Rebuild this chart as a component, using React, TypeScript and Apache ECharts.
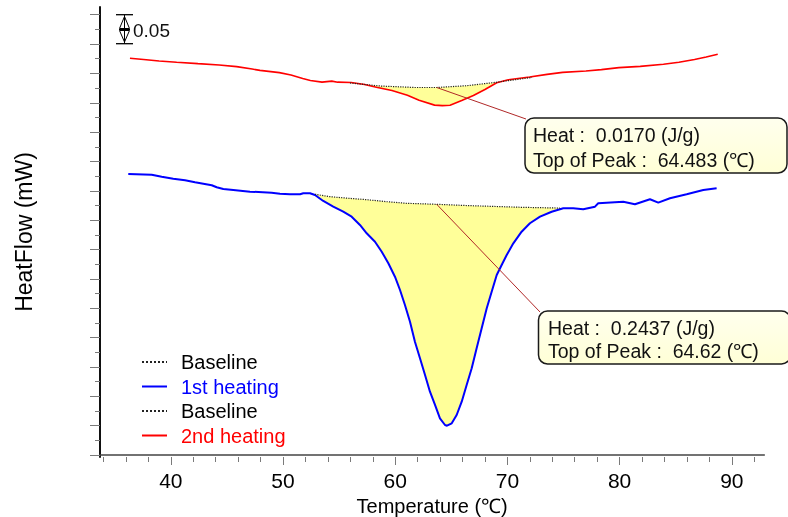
import React, { useEffect, useRef } from 'react';
import * as echarts from 'echarts';

// 2nd heating (red) curve: temperature (°C) and heat flow (mW, relative offset)
const redT = [36.36, 37.58, 38.96, 40.52, 42.42, 44.31, 45.87, 47.25, 47.95, 49.68, 50.71, 51.76, 52.44, 53.48, 54.35, 54.87, 56.08, 57.28, 58.32, 59.71, 61.09, 62.13, 63.51, 64.2, 64.89, 65.93, 66.97, 68.0, 69.05, 70.08, 71.98, 73.54, 74.92, 77.0, 78.38, 79.94, 81.84, 83.91, 85.29, 86.68, 87.72, 88.75];
const redHF = [0.6756, 0.6734, 0.671, 0.6688, 0.6664, 0.6642, 0.6613, 0.6572, 0.655, 0.6511, 0.647, 0.6412, 0.6378, 0.6349, 0.6367, 0.6349, 0.6344, 0.631, 0.6264, 0.6206, 0.6126, 0.6041, 0.5958, 0.595, 0.5955, 0.6036, 0.6121, 0.6224, 0.6339, 0.639, 0.6436, 0.6482, 0.6516, 0.6538, 0.6562, 0.6596, 0.6618, 0.6654, 0.6688, 0.6734, 0.6778, 0.6824];
const redBaseT = [55.97, 58.65, 61.8, 63.7, 66.4, 69.0, 72.2];
const redBaseHF = [0.6335, 0.6284, 0.6258, 0.6258, 0.6289, 0.6347, 0.643];

// 1st heating (blue) curve
const blueT = [36.21, 38.3, 39.19, 40.22, 41.27, 42.16, 42.9, 43.65, 44.09, 44.68, 45.57, 47.06, 48.99, 49.73, 50.62, 51.52, 51.81, 52.41, 52.85, 53.59, 54.48, 55.37, 56.12, 56.86, 57.46, 58.2, 58.8, 59.39, 59.98, 60.43, 60.87, 61.32, 61.76, 62.21, 62.66, 63.1, 63.55, 63.99, 64.44, 64.62, 65.04, 65.48, 65.93, 66.37, 66.82, 67.26, 67.71, 68.16, 68.6, 69.05, 69.49, 69.94, 70.53, 71.27, 72.01, 72.91, 73.95, 74.98, 75.87, 76.76, 77.81, 78.1, 80.33, 81.37, 82.71, 83.45, 84.49, 85.98, 87.46, 88.65];
const blueHF = [0.4785, 0.4773, 0.4739, 0.4705, 0.4678, 0.4644, 0.462, 0.4593, 0.4559, 0.453, 0.4513, 0.4484, 0.4467, 0.445, 0.444, 0.444, 0.4457, 0.4457, 0.4428, 0.4326, 0.4229, 0.4143, 0.4058, 0.3917, 0.3775, 0.3632, 0.3462, 0.3265, 0.3036, 0.281, 0.2555, 0.227, 0.1929, 0.1647, 0.1362, 0.1078, 0.0852, 0.0625, 0.0511, 0.0499, 0.054, 0.0681, 0.0908, 0.1192, 0.1476, 0.1817, 0.2158, 0.2498, 0.2781, 0.3065, 0.3236, 0.3406, 0.3605, 0.3803, 0.3946, 0.4058, 0.4143, 0.4201, 0.4201, 0.4184, 0.4229, 0.4286, 0.4314, 0.4269, 0.4355, 0.4297, 0.4372, 0.444, 0.4513, 0.4542];
const blueBaseT = [52.85, 54.19, 55.82, 57.46, 59.24, 61.02, 63.7, 66.67, 71.27, 74.69];
const blueBaseHF = [0.444, 0.4399, 0.4372, 0.4348, 0.4314, 0.4286, 0.4269, 0.4246, 0.4218, 0.4205];

// legend / labels
const seriesNames = ['Baseline 1', '1st heating', 'Baseline 2', '2nd heating'];
const legendColors = ['#000000', '#0000ff', '#000000', '#ff0000'];
const annotRed = ['Heat :  0.0170 (J/g)', 'Top of Peak :  64.483 (℃)'];
const annotBlue = ['Heat :  0.2437 (J/g)', 'Top of Peak :  64.62 (℃)'];
const leaderAnchorT = 63.7;
const scaleBarLabel = '0.05';

const FONT = 'Liberation Sans, Arial, sans-serif';

const zip = (a: number[], b: number[]) => a.map((v, i) => [v, b[i]]);
const interp = (xs: number[], ys: number[], x: number) => {
  for (let i = 0; i < xs.length - 1; i++) {
    if (x >= xs[i] && x <= xs[i + 1]) {
      const f = (x - xs[i]) / (xs[i + 1] - xs[i]);
      return ys[i] + f * (ys[i + 1] - ys[i]);
    }
  }
  return ys[ys.length - 1];
};

function fillSeries(cT: number[], cHF: number[], bT: number[], bHF: number[]) {
  const t0 = bT[0];
  const t1 = bT[bT.length - 1];
  return {
    type: 'custom',
    xAxisIndex: 0,
    yAxisIndex: 0,
    silent: true,
    z: 1,
    data: [[t0, bHF[0]]],
    encode: { x: 0, y: 1 },
    renderItem: (_p: any, api: any) => {
      const pts: number[][] = [];
      for (let i = 0; i < cT.length; i++) {
        if (cT[i] >= t0 && cT[i] <= t1) pts.push(api.coord([cT[i], cHF[i]]));
      }
      for (let j = bT.length - 1; j >= 0; j--) pts.push(api.coord([bT[j], bHF[j]]));
      return { type: 'polygon', shape: { points: pts }, style: { fill: '#ffff99', stroke: 'none' } };
    },
  };
}

export default function App() {
  const ref = useRef<HTMLDivElement>(null);
  useEffect(() => {
    const chart = echarts.init(ref.current!, null, { renderer: 'svg' });
    const tick = (len: number) => ({ show: true, length: len, lineStyle: { color: '#7a7a7a', width: 1 } });
    const option: any = {
      animation: false,
      grid: [
        { left: 100, top: 7, width: 664.3, height: 450, outerBoundsMode: 'none' },
        { left: 103.48, top: 7, width: 650.76, height: 450, outerBoundsMode: 'none' },
        { left: 170.8, top: 7, width: 561, height: 450, outerBoundsMode: 'none' },
        { left: 100, top: 14.7, width: 664.3, height: 440.3, outerBoundsMode: 'none' },
      ],
      xAxis: [
        {
          gridIndex: 0, type: 'value', min: 33.69, max: 92.9, position: 'bottom',
          axisLine: { show: true, lineStyle: { color: '#444', width: 1.5 } },
          axisTick: { show: false }, axisLabel: { show: false }, splitLine: { show: false },
          name: 'Temperature (℃)', nameLocation: 'middle', nameGap: 39,
          nameTextStyle: { fontSize: 20, color: '#000', fontFamily: FONT },
        },
        {
          gridIndex: 1, type: 'value', min: 34, max: 92, interval: 2, position: 'bottom',
          axisLine: { show: false }, axisTick: tick(5), axisLabel: { show: false }, splitLine: { show: false },
        },
        {
          gridIndex: 2, type: 'value', min: 40, max: 90, interval: 10, position: 'bottom',
          axisLine: { show: false }, axisTick: tick(8), splitLine: { show: false },
          axisLabel: { show: true, fontSize: 21, margin: 13, color: '#000', fontFamily: FONT },
        },
        { gridIndex: 3, type: 'value', min: 0, max: 1, show: false },
      ],
      yAxis: [
        {
          gridIndex: 0, type: 'value', min: -0.0034, max: 0.7629, position: 'left',
          axisLine: { show: true, lineStyle: { color: '#111', width: 2 } },
          axisTick: { show: false }, axisLabel: { show: false }, splitLine: { show: false },
          name: 'HeatFlow (mW)', nameLocation: 'middle', nameGap: 65,
          nameTextStyle: { fontSize: 23, color: '#000', fontFamily: FONT },
        },
        { gridIndex: 1, type: 'value', min: 0, max: 1, show: false },
        { gridIndex: 2, type: 'value', min: 0, max: 1, show: false },
        {
          gridIndex: 3, type: 'value', min: 0, max: 0.75, interval: 0.025, position: 'left', offset: 0,
          axisLine: { show: false }, axisTick: tick(5), axisLabel: { show: false }, splitLine: { show: false },
        },
        {
          gridIndex: 3, type: 'value', min: 0, max: 0.75, interval: 0.05, position: 'left', offset: 0,
          axisLine: { show: false }, axisTick: tick(10), axisLabel: { show: false }, splitLine: { show: false },
        },
      ],
      legend: {
        orient: 'vertical', left: 141, top: 352, padding: 0, itemWidth: 25, itemHeight: 16, itemGap: 4.5,
        selectedMode: false,
        itemStyle: { opacity: 0 },
        data: seriesNames.map((n, i) => ({ name: n, textStyle: { color: legendColors[i] } })),
        formatter: (n: string) => (n.startsWith('Baseline') ? 'Baseline' : n),
        textStyle: { fontSize: 20, fontFamily: FONT, padding: [0, 0, 0, 9] },
      },
      series: [
        fillSeries(blueT, blueHF, blueBaseT, blueBaseHF),
        fillSeries(redT, redHF, redBaseT, redBaseHF),
        {
          name: seriesNames[0], type: 'line', xAxisIndex: 0, yAxisIndex: 0, symbol: 'none', z: 4,
          data: zip(blueBaseT, blueBaseHF), lineStyle: { color: '#222', width: 1.2, type: 'dotted' }, itemStyle: { color: '#222' },
        },
        {
          name: seriesNames[1], type: 'line', xAxisIndex: 0, yAxisIndex: 0, symbol: 'none', z: 3,
          data: zip(blueT, blueHF), lineStyle: { color: '#0000ff', width: 2 }, itemStyle: { color: '#0000ff' },
        },
        {
          name: seriesNames[2], type: 'line', xAxisIndex: 0, yAxisIndex: 0, symbol: 'none', z: 4,
          data: zip(redBaseT, redBaseHF), lineStyle: { color: '#222', width: 1.2, type: 'dotted' }, itemStyle: { color: '#222' },
        },
        {
          name: seriesNames[3], type: 'line', xAxisIndex: 0, yAxisIndex: 0, symbol: 'none', z: 3,
          data: zip(redT, redHF), lineStyle: { color: '#ff0000', width: 1.6 }, itemStyle: { color: '#ff0000' },
        },
      ],
    };
    chart.setOption(option);

    const pRed = chart.convertToPixel({ xAxisIndex: 0, yAxisIndex: 0 } as any, [leaderAnchorT, interp(redBaseT, redBaseHF, leaderAnchorT)]) as number[];
    const pBlue = chart.convertToPixel({ xAxisIndex: 0, yAxisIndex: 0 } as any, [leaderAnchorT, interp(blueBaseT, blueBaseHF, leaderAnchorT)]) as number[];

    const boxStyle = {
      fill: new echarts.graphic.LinearGradient(0, 0, 0, 1, [
        { offset: 0, color: '#ffffee' },
        { offset: 1, color: '#ffffd6' },
      ]),
      stroke: '#1a1a1a', lineWidth: 1.5,
    };
    const txt = (x: number, y: number, s: string, size = 19.5) => ({
      type: 'text', x, y, z: 12,
      style: { text: s, fontSize: size, fontFamily: FONT, fill: '#111', verticalAlign: 'middle', align: 'left' },
    });
    const lineEl = (x1: number, y1: number, x2: number, y2: number, color = '#000', w = 1.3) => ({
      type: 'line', z: 11, shape: { x1, y1, x2, y2 }, style: { stroke: color, lineWidth: w },
    });

    chart.setOption({
      graphic: [
        lineEl(pRed[0], pRed[1], 526, 119, '#b02828', 1),
        lineEl(pBlue[0], pBlue[1], 540, 312, '#b02828', 1),
        { type: 'rect', z: 11, shape: { x: 525, y: 118, width: 262, height: 55, r: 9 }, style: boxStyle },
        txt(533, 135, annotRed[0]),
        txt(533, 160, annotRed[1]),
        { type: 'rect', z: 11, shape: { x: 538.5, y: 311, width: 252, height: 53, r: 9 }, style: boxStyle },
        txt(548, 327.5, annotBlue[0]),
        txt(548, 351, annotBlue[1]),
        // scale bar
        lineEl(116, 14.7, 133, 14.7),
        lineEl(116, 43.7, 133, 43.7),
        lineEl(124.5, 14.7, 124.5, 43.7, '#000', 1),
        { type: 'polygon', z: 11, shape: { points: [[124.5, 16.5], [119.5, 28.5], [129.5, 28.5]] }, style: { fill: 'none', stroke: '#000', lineWidth: 1 } },
        { type: 'polygon', z: 11, shape: { points: [[124.5, 42], [119.5, 30.5], [129.5, 30.5]] }, style: { fill: 'none', stroke: '#000', lineWidth: 1 } },
        lineEl(119, 29.5, 130, 29.5, '#000', 1),
        txt(133, 30.5, scaleBarLabel, 19),
      ],
    });
    return () => chart.dispose();
  }, []);
  return <div ref={ref} style={{ position: 'fixed', left: 0, top: 0, width: 788, height: 517 }} />;
}
